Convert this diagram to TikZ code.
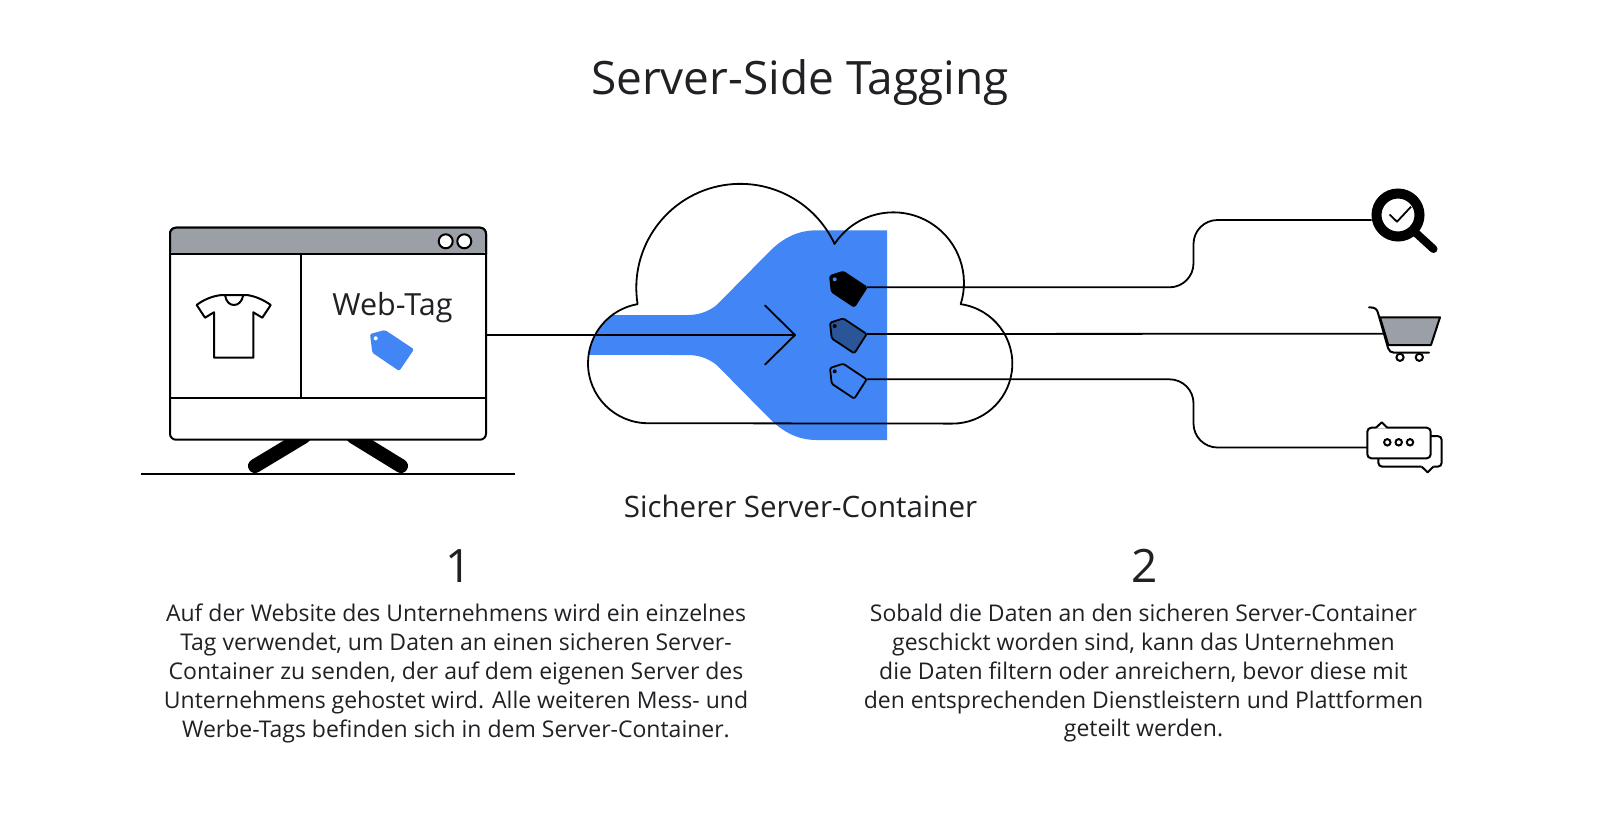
\documentclass[tikz,border=0pt]{standalone}
\usepackage{fontspec}
\setmainfont{Open Sans}[Scale=1]
\usetikzlibrary{calc}
\definecolor{gblue}{HTML}{4285F4}
\definecolor{ggray}{HTML}{9AA0A6}
\definecolor{gtext}{HTML}{202124}
\definecolor{gdark}{HTML}{2A5599}
\tikzset{
  ln/.style={line width=1.8pt,draw=black,line join=round},
  lbl/.style={text=gtext,inner sep=0pt,align=center},
  titletxt/.style={lbl,font=\fontsize{46}{50}\selectfont},
  numtxt/.style={lbl,font=\fontsize{46}{50}\selectfont},
  subtxt/.style={lbl,font=\fontsize{29.5}{32}\selectfont},
  bodytxt/.style={lbl,font=\fontsize{23}{28.8}\selectfont},
  tagshape/.style={ln,rounded corners=1.5pt},
}
\newcommand{\ctag}[4]{% y offset, fill, hole, tip name
  \begin{scope}[shift={(0,#1)}]
    \filldraw[tagshape,fill=#2] (830,276) -- (843.3,271.7) -- (866.7,287.3) -- (854.3,306.7) -- (831.7,291.7) -- cycle;
    \fill[#3] (834.7,279.3) circle[radius=2];
    \coordinate (#4) at (866.7,287.3);
  \end{scope}}
\begin{document}
\begin{tikzpicture}[x=1pt,y=-1pt]
\useasboundingbox (0,0) rectangle (1600,831);
\fill[white] (0,0) rectangle (1600,831);

\node[titletxt,anchor=base] (title) at (800,94) {Server-Side Tagging};

% stand and ground
\draw[line width=14pt,line cap=round] (304,436.5) -- (255,466);
\draw[line width=14pt,line cap=round] (353,436.5) -- (401,466);
\coordinate (gl) at (141,474); \coordinate (gr) at (515,474);
\draw[ln] (gl) -- (gr);

% browser
\node[draw=black,line width=2pt,fill=white,rounded corners=6pt,minimum width=316pt,minimum height=212pt,inner sep=0pt,outer sep=0pt] (browser) at (328,333.7) {};
\fill[ggray,rounded corners=6pt] (170,254.3) -- (170,227.7) -- (486,227.7) -- (486,254.3) -- cycle;
\draw[line width=2pt,rounded corners=6pt] (170,254.3) -- (170,227.7) -- (486,227.7) -- (486,254.3);
\draw[line width=2pt] (170,254.3) -- (486,254.3);
\draw[line width=2pt] (170,397.7) -- (486,397.7);
\draw[line width=2pt] (300.7,254.3) -- (300.7,397.7);
\filldraw[line width=2pt,fill=white] (445.7,241.3) circle[radius=7];
\filldraw[line width=2pt,fill=white] (464.3,241.3) circle[radius=7];

% shirt
\draw[line width=2pt,line join=round] (221.7,295) -- (246.7,295) .. controls (255,296) and (264,300) .. (270.7,305) -- (262.3,317.7) -- (253.3,312.3) -- (253.3,357.7) -- (214,357.7) -- (214,312.3) -- (205,317.7) -- (196.7,305) .. controls (203,300) and (212,296) .. (221.7,295);
\draw[line width=2pt] (225,295) .. controls (226,302) and (230,305) .. (234,305) .. controls (238,305) and (242,302) .. (243.3,295);

\node[lbl,font=\fontsize{30.5}{32}\selectfont,anchor=base] (webtag) at (392.5,315.5) {Web-Tag};
\fill[gblue,rounded corners=1.5pt] (370,334) -- (385,330) -- (414,349.3) -- (399.3,371) -- (372.3,352.7) -- cycle;
\fill[white] (375.7,338.3) circle[radius=2];

% blue funnel
\fill[gblue] (887,230.3) -- (816.7,230.3) .. controls (798,230.3) and (783,238) .. (770,251)
  -- (716.7,305) .. controls (708,312) and (698,315) .. (688,315) -- (612,315)
  arc[start angle=233.1,end angle=187.7,radius=60]
  -- (688,355) .. controls (698,355) and (708,358) .. (716.7,365)
  -- (770,419) .. controls (783,432) and (798,440) .. (816.7,440) -- (887,440) -- cycle;

% cloud
\draw[ln] (648,423.2) arc[start angle=90,end angle=260,radius=60]
  arc[start angle=171,end angle=335,radius=104]
  arc[start angle=213.6,end angle=377.5,radius=70.6]
  arc[start angle=278,end angle=450,radius=60] -- cycle;

% main arrow
\coordinate (tip) at (795,335);
\coordinate (headA) at (765,305.5);
\coordinate (headB) at (765,364.5);
\draw[ln] (browser.east |- tip) -- (tip);
\draw[ln,line cap=round] (headA) -- (tip) -- (headB);

% icons: search
\node[circle,draw=black,line width=10pt,minimum size=43pt,inner sep=0pt] (glass) at (1398,215) {};
\draw[line width=8pt,line cap=round] (1416,233) -- (1433.5,249);
\draw[line width=1.8pt,line join=round] (1389.5,214.5) -- (1397,221.7) -- (1411,206.7);

% icons: cart
\coordinate (cart) at (1384,333.7);
% icons: bubbles
\node[draw=black,line width=2pt,rounded corners=4pt,minimum width=63.4pt,minimum height=30.6pt,inner sep=0pt,outer sep=0pt] (bubble) at (1399,443) {};

% connectors
\coordinate (y1) at (1300,220);
\coordinate (y3) at (1300,447.5);
\coordinate (bus) at (1193.5,300);
\ctag{0}{black}{gblue}{t1}
\ctag{46.7}{gdark}{black}{t2}
\ctag{92}{none}{black}{t3}
\draw[ln,rounded corners=24pt] (t1) -- (bus |- t1) -- (bus |- y1) -- (glass.west |- y1);
\draw[ln] (t2) -- (cart);
\draw[ln,rounded corners=24pt] (t3) -- (bus |- t3) -- (bus |- y3) -- (bubble.west |- y3);

% cart drawing
\filldraw[line width=2pt,fill=ggray,line join=round] (1380,317.3) -- (1440,317.3) -- (1431,345) -- (1388.3,345) -- cycle;
\draw[line width=2pt,line cap=round] (1369,307.3) .. controls (1375,307.3) and (1377,309) .. (1378,313) -- (1388,348) .. controls (1389,351) and (1391,352.7) .. (1394,352.7) -- (1429,352.7);
\draw[line width=2pt] (1400,357.3) circle[radius=3.6];
\draw[line width=2pt] (1419.3,357.3) circle[radius=3.6];

% bubble details
\fill[white] (1376,428.7) -- (1381.7,422.8) -- (1387.3,428.7) -- cycle;
\draw[line width=2pt,line join=round] (1376,427.7) -- (1381.7,422.3) -- (1387.3,427.7);
\draw[line width=2pt,rounded corners=4pt] (1378.3,458.3) -- (1378.3,466.7) -- (1421.7,466.7);
\draw[line width=2pt,line join=round] (1421.7,466.7) -- (1427.7,472.3) -- (1433.3,466.7);
\draw[line width=2pt,rounded corners=4pt] (1433.3,466.7) -- (1441.7,466.7) -- (1441.7,436) -- (1430.7,436);
\foreach \dx in {1387.3,1398.7,1410}{\draw[line width=2pt] (\dx,442.3) circle[radius=3.2];}

% captions
\node[subtxt,anchor=base] (sub) at (800.5,517) {Sicherer Server-Container};
\node[numtxt,anchor=base] (n1) at (458.5,582) {1};
\node[numtxt,anchor=base] (n2) at (1144.5,582) {2};
\node[bodytxt,anchor=north] (b1) at (456,604) {Auf der Website des Unternehmens wird ein einzelnes\\Tag verwendet, um Daten an einen sicheren Server-\\Container zu senden, der auf dem eigenen Server des\\Unternehmens gehostet wird. Alle weiteren Mess- und\\Werbe-Tags befinden sich in dem Server-Container.};
\node[bodytxt,anchor=north] (b2) at (1143.5,604) {Sobald die Daten an den sicheren Server-Container\\geschickt worden sind, kann das Unternehmen\\die Daten filtern oder anreichern, bevor diese mit\\den entsprechenden Dienstleistern und Plattformen\\geteilt werden.};
\end{tikzpicture}
\end{document}
